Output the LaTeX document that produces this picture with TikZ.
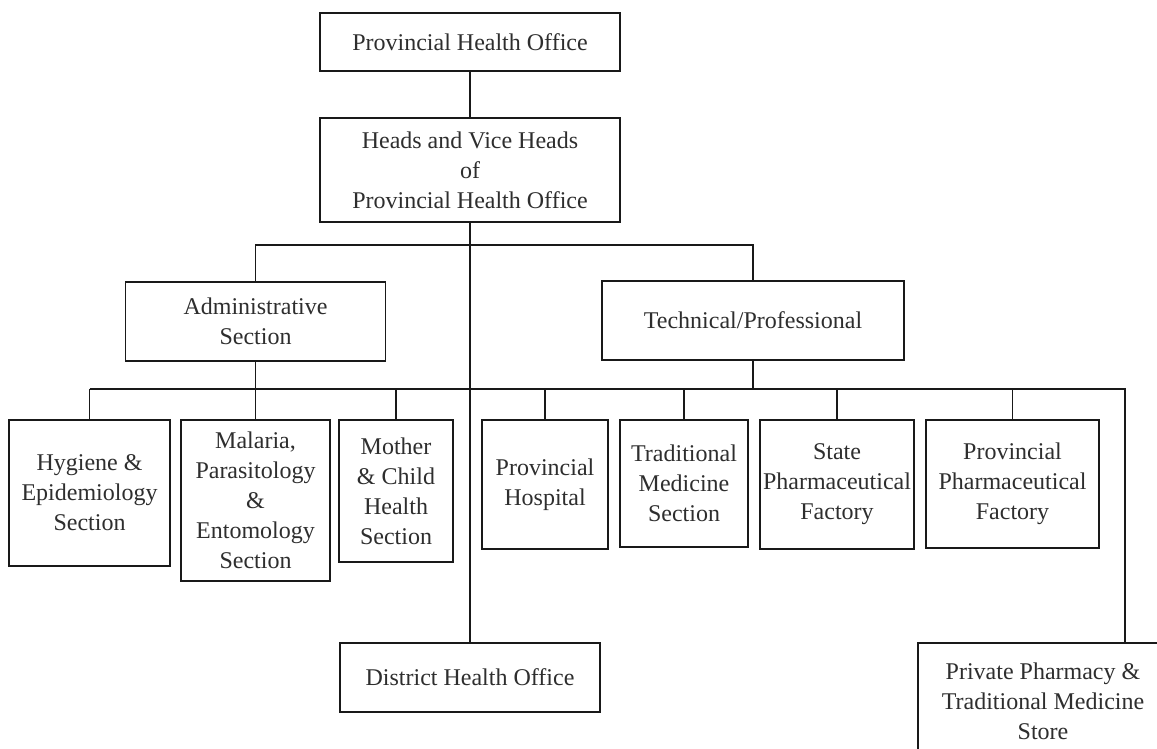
\documentclass[tikz,border=0pt]{standalone}
\usepackage{fontspec}
\setmainfont{Liberation Serif}
\begin{document}
\begin{tikzpicture}[x=1pt,y=-1pt,
  unit/.style={draw=black!90, line width=1.5pt, fill=white, inner sep=0pt,
    align=center, text=black!82,
    font=\fontsize{24}{30}\selectfont},
  link/.style={draw=black!90, line width=1.1pt}]
\path[use as bounding box, clip] (0,0) rectangle (1157,749);

% top of the hierarchy
\node[unit, minimum width=300, minimum height=58] (top) at (470,42) {Provincial Health Office};
\node[unit, minimum width=300, minimum height=104] (heads) at (470,170)
  {Heads and Vice Heads\\of\\Provincial Health Office};

% the two main divisions
\node[unit, minimum width=260, minimum height=79] (admin) at (255.5,321.5) {Administrative\\Section};
\node[unit, minimum width=302, minimum height=79] (tech) at (753,320.5) {Technical/Professional};

% sections and units
\node[unit, minimum width=161, minimum height=146] (hyg) at (89.5,493) {Hygiene \&\\Epidemiology\\Section};
\node[unit, minimum width=149, minimum height=161] (mal) at (255.5,500.5)
  {Malaria,\\Parasitology\\\&\\Entomology\\Section};
\node[unit, minimum width=114, minimum height=142] (mch) at (396,491) {Mother\\\& Child\\Health\\Section};
\node[unit, minimum width=126, minimum height=129] (hosp) at (545,484.5) {Provincial\\Hospital};
\node[unit, minimum width=128, minimum height=127] (trad) at (684,483.5) {Traditional\\Medicine\\Section};
\node[unit, minimum width=154, minimum height=129] (spf) at (837,484.5) {State\\Pharmaceutical\\Factory};
\node[unit, minimum width=173, minimum height=128] (ppf) at (1012.5,484) {Provincial\\Pharmaceutical\\Factory};

\node[unit, minimum width=260, minimum height=69] (dho) at (470,677.5) {District Health Office};
\node[unit, minimum width=250, minimum height=116] (priv) at (1043,701)
  {Private Pharmacy \&\\Traditional Medicine\\Store};

% bus lines
\coordinate (busA) at (470,245);
\coordinate (busB) at (470,389);
\coordinate (busR) at (1125,389);

\draw[link] (top.south) -- (heads.north);
\draw[link] (heads.south) -- (dho.north);
\draw[link] (admin.north) |- (busA) -| (tech.north);
\draw[link] (admin.south) -- (admin.south |- busB);
\draw[link] (tech.south) -- (tech.south |- busB);
\draw[link] (hyg.north |- busB) -- (busR) -- (busR |- priv.north);
\foreach \n in {hyg,mal,mch,hosp,trad,spf,ppf}
  \draw[link] (\n.north |- busB) -- (\n.north);
\end{tikzpicture}
\end{document}
